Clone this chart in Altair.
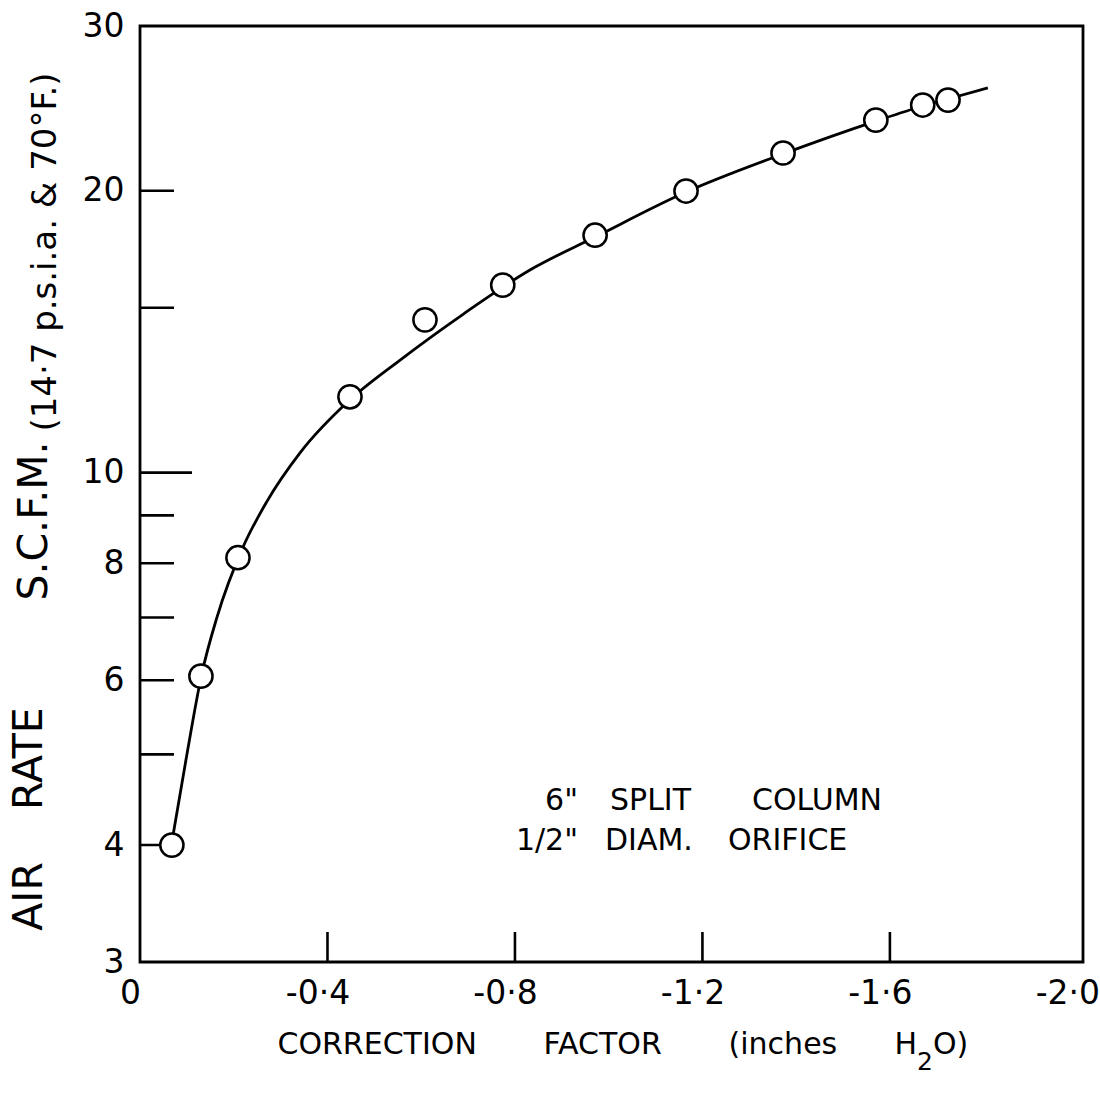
import altair as alt
import pandas as pd

# ---- data ----
pt_x = [-0.068, -0.130, -0.209, -0.448, -0.608, -0.774, -0.971, -1.165, -1.372, -1.570, -1.670, -1.724]
pt_y = [4.0, 6.06, 8.11, 12.05, 14.56, 15.86, 17.93, 19.99, 21.95, 23.80, 24.70, 25.0]

curve_x = [-0.068, -0.098, -0.132, -0.164, -0.220, -0.270, -0.341, -0.448, -0.555,
           -0.690, -0.832, -0.971, -1.165, -1.372, -1.570, -1.670, -1.724, -1.809]
curve_y = [4.03, 4.93, 6.10, 7.00, 8.33, 9.30, 10.49, 11.96, 13.19,
           14.77, 16.46, 17.85, 19.94, 21.90, 23.74, 24.64, 25.07, 25.76]

x_tick_labels = [0, -0.4, -0.8, -1.2, -1.6, -2.0]
x_inner_ticks = [-0.4, -0.8, -1.2, -1.6]
y_tick_labels = [3, 4, 6, 8, 10, 20, 30]
y_short_ticks = [4, 5, 6, 7, 8, 9, 15, 20]
y_long_ticks = [10]

NB = "\u00a0"
y_title_parts = ["AIR" + NB * 4 + "RATE", "S.C.F.M.", "(14·7 p.s.i.a. & 70°F.)"]
x_title_main = "CORRECTION" + NB * 7 + "FACTOR" + NB * 7 + "(inches" + NB * 6 + "H"
x_title_sub = "2"
x_title_end = "O)"
note_words = ['6"', "SPLIT", "COLUMN", '1/2"', "DIAM.", "ORIFICE"]

W, H = 943, 936
FONT = "DejaVu Sans"

pts = pd.DataFrame({"x": pt_x, "y": pt_y})
curve = pd.DataFrame({"x": curve_x, "y": curve_y, "i": list(range(len(curve_x)))})

xscale = alt.Scale(domain=[0, -2.012], nice=False, zero=False)
yscale = alt.Scale(type="log", domain=[3, 30], nice=False)

x_label_expr = "datum.value == 0 ? '0' : '-' + replace(format(abs(datum.value), '.1f'), '.', '·')"

line = alt.Chart(curve).mark_line(color="black", strokeWidth=2.8, interpolate="monotone").encode(
    x=alt.X("x:Q", scale=xscale,
            axis=alt.Axis(values=x_tick_labels, labelExpr=x_label_expr, labelFlush=False,
                          labelOffset=-10, labelPadding=15, ticks=False, tickSize=0,
                          domain=False, grid=False, title=None, labelFontSize=33,
                          labelFont=FONT, labelColor="black")),
    y=alt.Y("y:Q", scale=yscale,
            axis=alt.Axis(values=y_tick_labels, format="d", ticks=False, tickSize=0,
                          domain=False, grid=False, labelPadding=16, title=None,
                          labelFontSize=33, labelFont=FONT, labelColor="black")),
    order=alt.Order("i:Q"),
)

points = alt.Chart(pts).mark_circle(size=540, color="white", stroke="black",
                                    strokeWidth=2.5, opacity=1).encode(
    x=alt.X("x:Q", scale=xscale),
    y=alt.Y("y:Q", scale=yscale),
)

yt_short = alt.Chart(pd.DataFrame({"y": y_short_ticks})).mark_rule(
    color="black", strokeWidth=2.6).encode(
    y=alt.Y("y:Q", scale=yscale), x=alt.value(0), x2=alt.value(34))

yt_long = alt.Chart(pd.DataFrame({"y": y_long_ticks})).mark_rule(
    color="black", strokeWidth=2.6).encode(
    y=alt.Y("y:Q", scale=yscale), x=alt.value(0), x2=alt.value(52))

xt = alt.Chart(pd.DataFrame({"x": x_inner_ticks})).mark_rule(
    color="black", strokeWidth=2.6).encode(
    x=alt.X("x:Q", scale=xscale), y=alt.value(H), y2=alt.value(H - 30))


def txt(s, x, y, size, angle=0, align="center", baseline="middle"):
    kw = dict(font=FONT, fontSize=size, color="black", align=align, baseline=baseline)
    if angle:
        kw["angle"] = angle
    return alt.Chart(pd.DataFrame({"t": [s]})).mark_text(**kw).encode(
        x=alt.value(x), y=alt.value(y), text="t:N")


texts = [
    txt(y_title_parts[0], -110, 793, 41, angle=270),
    txt(y_title_parts[1], -105, 495, 41, angle=270),
    txt(y_title_parts[2], -94, 226, 34, angle=270),
    txt(x_title_main, 777, 1019, 30, align="right"),
    txt(x_title_sub, 777, 1036, 25, align="left"),
    txt(x_title_end, 793, 1019, 30, align="left"),
    txt(note_words[0], 438, 775, 30, align="right"),
    txt(note_words[1], 470, 775, 30, align="left"),
    txt(note_words[2], 612, 775, 30, align="left"),
    txt(note_words[3], 438, 815, 30, align="right"),
    txt(note_words[4], 465, 815, 30, align="left"),
    txt(note_words[5], 588, 815, 30, align="left"),
]

chart = alt.layer(line, yt_short, yt_long, xt, points, *texts).properties(
    width=W, height=H,
    autosize=alt.AutoSizeParams(type="none"),
    padding={"left": 140, "top": 26, "right": 17, "bottom": 137},
    background="white",
).configure_view(stroke="black", strokeWidth=2.8)

chart.save("out.html", embed_options={"renderer": "svg", "actions": False})
